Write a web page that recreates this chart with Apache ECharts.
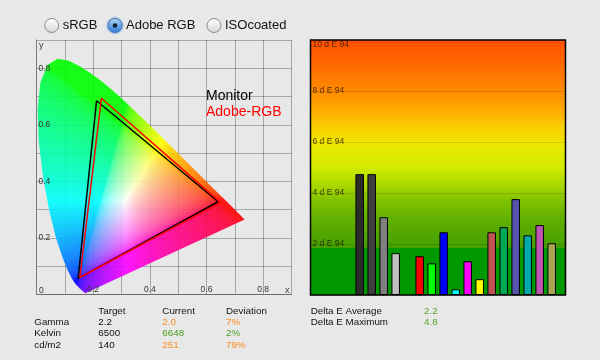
<!DOCTYPE html>
<html><head><meta charset="utf-8">
<script src="https://cdn.jsdelivr.net/npm/echarts@6/dist/echarts.min.js"></script>
<style>html,body{margin:0;padding:0;background:#e8e8e8;}#c{width:600px;height:360px;}</style>
</head><body><div id="c"></div>
<script>
// CIE 1931 spectral locus (380..700 nm)
const spectralLocus = [
[0.1741,0.0050],[0.1740,0.0050],[0.1738,0.0049],[0.1736,0.0049],[0.1733,0.0048],[0.1730,0.0048],
[0.1726,0.0048],[0.1721,0.0048],[0.1714,0.0051],[0.1703,0.0058],[0.1689,0.0069],[0.1669,0.0086],
[0.1644,0.0109],[0.1611,0.0138],[0.1566,0.0177],[0.1510,0.0227],[0.1440,0.0297],[0.1355,0.0399],
[0.1241,0.0578],[0.1096,0.0868],[0.0913,0.1327],[0.0687,0.2007],[0.0454,0.2950],[0.0235,0.4127],
[0.0082,0.5384],[0.0039,0.6548],[0.0139,0.7502],[0.0389,0.8120],[0.0743,0.8338],[0.1142,0.8262],
[0.1547,0.8059],[0.1929,0.7816],[0.2296,0.7543],[0.2658,0.7243],[0.3016,0.6923],[0.3373,0.6589],
[0.3731,0.6245],[0.4087,0.5896],[0.4441,0.5547],[0.4788,0.5202],[0.5125,0.4866],[0.5448,0.4544],
[0.5752,0.4242],[0.6029,0.3965],[0.6270,0.3725],[0.6482,0.3514],[0.6658,0.3340],[0.6801,0.3197],
[0.6915,0.3083],[0.7006,0.2993],[0.7079,0.2920],[0.7140,0.2859],[0.7190,0.2809],[0.7230,0.2770],
[0.7260,0.2740],[0.7283,0.2717],[0.7300,0.2700],[0.7311,0.2689],[0.7320,0.2680],[0.7327,0.2673],
[0.7334,0.2666],[0.7344,0.2656],[0.7347,0.2653]
];
const monitorTriangle = [[0.641,0.328],[0.212,0.685],[0.147,0.057]];
const adobeTriangle = [[0.649,0.326],[0.229,0.694],[0.153,0.060]];
const cieTickLabels = ['0.2','0.4','0.6','0.8'];

const patchNames = ['Gray 20','Gray 25','Gray 50','Gray 75','','Red','Green','Blue','Cyan','Magenta','Yellow','Skin','Sea green','Slate','Teal','Orchid','Olive'];
const patchDeltaE = [4.74,4.74,3.05,1.64,null,1.52,1.24,2.46,0.22,1.32,0.62,2.46,2.66,3.76,2.34,2.74,2.03];
const patchColors = ['#2b2b2b','#404040','#808080','#c0c0c0',null,'#ff0000','#00ff00','#0000ff','#00ffff','#ff00ff','#ffff00','#c05353','#00aa55','#5555ad','#00aaaa','#c055b2','#aaa552'];
const deltaTickSuffix = ' d E 94';

const tableHeader = ['Target','Current','Deviation'];
const tableRows = ['Gamma','Kelvin','cd/m2'];
const targetVals = ['2.2','6500','140'];
const currentVals = ['2.0','6648','251'];
const deviationVals = ['7%','2%','79%'];
const rowStatus = ['warn','ok','warn'];
const deltaLabels = ['Delta E Average','Delta E Maximum'];
const deltaVals = ['2.2','4.8'];
const gamutOptions = ['sRGB','Adobe RGB','ISOcoated'];
const selectedGamut = 1;

const FONT = "'Liberation Sans', Arial, sans-serif";
const ORANGE = '#ff8a1e', GREEN = '#4e9e22';

function xyToRgb(x, y) {
  if (y < 0.0008) y = 0.0008;
  const X = x / y, Z = (1 - x - y) / y;
  let r = 3.2406 * X - 1.5372 - 0.4986 * Z;
  let g = -0.9689 * X + 1.8758 + 0.0415 * Z;
  let b = 0.0557 * X - 0.2040 + 1.0570 * Z;
  r = Math.max(0, r); g = Math.max(0, g); b = Math.max(0, b);
  const m = Math.max(r, g, b) || 1;
  return [r / m, g / m, b / m].map(c => Math.round(255 * (c <= 0.0031308 ? 12.92 * c : 1.055 * Math.pow(c, 1 / 2.4) - 0.055)));
}
let fieldCanvas = null, fieldKey = '';
function getField(api) {
  const p0 = api.coord([0, 0]), p1 = api.coord([0.9, 0.9]);
  const key = p0.join(',') + p1.join(',');
  if (fieldCanvas && key === fieldKey) return fieldCanvas;
  const W = 600, H = 360;
  const cv = document.createElement('canvas'); cv.width = W; cv.height = H;
  const ctx = cv.getContext('2d');
  const img = ctx.createImageData(W, H);
  const sx = (p1[0] - p0[0]) / 0.9, sy = (p1[1] - p0[1]) / 0.9;
  for (let py = 0; py < H; py++) {
    for (let px = 0; px < W; px++) {
      const x = (px + 0.5 - p0[0]) / sx, y = (py + 0.5 - p0[1]) / sy;
      if (x < -0.02 || x > 0.8 || y < -0.02 || y > 0.88) continue;
      const c = xyToRgb(Math.max(0, x), Math.max(0, y));
      const i = (py * W + px) * 4;
      img.data[i] = c[0]; img.data[i + 1] = c[1]; img.data[i + 2] = c[2]; img.data[i + 3] = 255;
    }
  }
  ctx.putImageData(img, 0, 0);
  fieldCanvas = cv; fieldKey = key;
  return cv;
}

const chart = echarts.init(document.getElementById('c'), null, {renderer: 'canvas'});

const graphics = [];
// radio buttons
const radioX = [51.7, 115, 214];
gamutOptions.forEach((name, i) => {
  const cx = radioX[i], cy = 25.5;
  if (i === selectedGamut) {
    graphics.push({type: 'circle', shape: {cx, cy, r: 9}, style: {fill: 'rgba(90,150,225,0.35)'}});
    graphics.push({type: 'circle', shape: {cx, cy, r: 7}, style: {
      fill: new echarts.graphic.LinearGradient(0, 0, 0, 1, [{offset: 0, color: '#b9dbf8'}, {offset: 0.5, color: '#6aa8e8'}, {offset: 1, color: '#2f7fd6'}]),
      stroke: '#3d6eae', lineWidth: 1}});
    graphics.push({type: 'circle', shape: {cx, cy, r: 2.3}, style: {fill: '#16202e'}});
  } else {
    graphics.push({type: 'circle', shape: {cx, cy, r: 7}, style: {
      fill: new echarts.graphic.LinearGradient(0, 0, 0, 1, [{offset: 0, color: '#ffffff'}, {offset: 1, color: '#d6d6d6'}]),
      stroke: '#8a8a8a', lineWidth: 1}});
  }
  graphics.push({type: 'text', x: cx + 11, y: cy, style: {text: name, font: '13px ' + FONT, fill: '#111', verticalAlign: 'middle', align: 'left'}});
});
// axis annotations
graphics.push({type: 'text', x: 39, y: 46, z: 20, style: {text: 'y', font: '9px ' + FONT, fill: '#444', verticalAlign: 'middle'}});
graphics.push({type: 'text', x: 285, y: 291, z: 20, style: {text: 'x', font: '9px ' + FONT, fill: '#444', verticalAlign: 'middle'}});
graphics.push({type: 'text', x: 39, y: 290.5, z: 20, style: {text: '0', font: '8.5px ' + FONT, fill: '#333', verticalAlign: 'middle'}});
// legend texts
graphics.push({type: 'text', x: 206, y: 96.5, z: 20, style: {text: 'Monitor', font: '14px ' + FONT, fill: '#000', verticalAlign: 'middle'}});
graphics.push({type: 'text', x: 206, y: 112.5, z: 20, style: {text: 'Adobe-RGB', font: '14px ' + FONT, fill: '#ff0000', verticalAlign: 'middle'}});
// table
const colX = [34.3, 98.3, 162.3, 226];
const rowY = [311.3, 322.5, 333.7, 344.9];
const tf = '9.8px ' + FONT;
tableHeader.forEach((h, j) => graphics.push({type: 'text', x: colX[j + 1], y: rowY[0], style: {text: h, font: tf, fill: '#111', verticalAlign: 'middle'}}));
tableRows.forEach((r, i) => {
  const col = rowStatus[i] === 'ok' ? GREEN : ORANGE;
  graphics.push({type: 'text', x: colX[0], y: rowY[i + 1], style: {text: r, font: tf, fill: '#111', verticalAlign: 'middle'}});
  graphics.push({type: 'text', x: colX[1], y: rowY[i + 1], style: {text: targetVals[i], font: tf, fill: '#111', verticalAlign: 'middle'}});
  graphics.push({type: 'text', x: colX[2], y: rowY[i + 1], style: {text: currentVals[i], font: tf, fill: col, verticalAlign: 'middle'}});
  graphics.push({type: 'text', x: colX[3], y: rowY[i + 1], style: {text: deviationVals[i], font: tf, fill: col, verticalAlign: 'middle'}});
});
deltaLabels.forEach((l, i) => {
  graphics.push({type: 'text', x: 310.7, y: rowY[0] + i * 10.8, style: {text: l, font: tf, fill: '#111', verticalAlign: 'middle'}});
  graphics.push({type: 'text', x: 424, y: rowY[0] + i * 10.8, style: {text: deltaVals[i], font: tf, fill: '#5aa028', verticalAlign: 'middle'}});
});

const bgGradient = new echarts.graphic.LinearGradient(0, 0, 0, 1, [
  {offset: 0, color: '#ff4e00'}, {offset: 0.1, color: '#ff6a00'}, {offset: 0.2, color: '#ff8a00'},
  {offset: 0.28, color: '#ffae00'}, {offset: 0.35, color: '#f8d200'}, {offset: 0.41, color: '#eee800'},
  {offset: 0.5, color: '#d2ea00'}, {offset: 0.57, color: '#a8d800'}, {offset: 0.63, color: '#80c200'},
  {offset: 0.7, color: '#62b000'}, {offset: 0.8, color: '#48a200'}, {offset: 0.812, color: '#44a000'},
  {offset: 0.815, color: '#009a00'}, {offset: 1, color: '#009900'}
]);

const evenTick = v => { const k = Math.round(v * 10); return (k === 2 || k === 4 || k === 6 || k === 8) ? cieTickLabels[k / 2 - 1] : ''; };
const cieGridAxis = {gridIndex: 0, type: 'value', min: 0, max: 0.9, interval: 0.1, axisTick: {show: false}};

chart.setOption({
  animation: false,
  backgroundColor: '#e8e8e8',
  graphic: graphics,
  grid: [
    {left: 36.5, top: 40, width: 255, height: 254.5},
    {left: 310.5, top: 40, width: 255, height: 255, show: true, backgroundColor: bgGradient, borderColor: '#000', borderWidth: 1.5},
    {left: 353.7, top: 40, width: 204, height: 255}
  ],
  xAxis: [
    Object.assign({}, cieGridAxis, {position: 'bottom',
     axisLine: {show: true, onZero: false, lineStyle: {color: '#6e6e6e', width: 1}}, axisLabel: {show: false},
     splitLine: {show: true, lineStyle: {color: 'rgba(0,0,0,0.28)', width: 1}}}),
    {gridIndex: 1, type: 'value', min: 0, max: 1, show: false},
    {gridIndex: 2, type: 'category', data: patchNames, show: false},
    Object.assign({}, cieGridAxis, {position: 'bottom', z: 10, axisLine: {show: false}, splitLine: {show: false},
     axisLabel: {inside: true, margin: 0, fontSize: 8.5, color: '#333', fontFamily: FONT, formatter: evenTick, showMinLabel: false}})
  ],
  yAxis: [
    Object.assign({}, cieGridAxis, {position: 'left',
     axisLine: {show: true, onZero: false, lineStyle: {color: '#7a7a7a', width: 1}}, axisLabel: {show: false},
     splitLine: {show: true, lineStyle: {color: 'rgba(0,0,0,0.28)', width: 1}}}),
    {gridIndex: 1, type: 'value', min: 0, max: 10, interval: 2,
     axisLine: {show: false}, axisTick: {show: false},
     axisLabel: {inside: true, margin: 2, fontSize: 8.5, fontFamily: FONT, color: 'rgba(40,20,0,0.8)', showMinLabel: false,
       formatter: v => v === 10 ? '{t|' + v + deltaTickSuffix + '}' : v + deltaTickSuffix,
       rich: {t: {padding: [10, 0, 0, 0], fontSize: 8.5, fontFamily: FONT, color: 'rgba(40,20,0,0.8)'}}},
     splitLine: {show: true, lineStyle: {color: 'rgba(0,0,0,0.12)', width: 1}}},
    {gridIndex: 2, type: 'value', min: 0, max: 10, show: false},
    Object.assign({}, cieGridAxis, {position: 'left', z: 10, axisLine: {show: false}, splitLine: {show: false},
     axisLabel: {inside: true, margin: 2, fontSize: 8.5, color: '#333', fontFamily: FONT, formatter: evenTick, showMinLabel: false}})
  ],
  series: [
    {type: 'custom', xAxisIndex: 0, yAxisIndex: 0, z: 1, silent: true, data: [[0.3, 0.3]],
     renderItem: (params, api) => ({
       type: 'polygon',
       shape: {points: spectralLocus.map(p => api.coord(p))},
       style: {fill: {image: getField(api), repeat: 'no-repeat'}, stroke: null, opacity: 0.9}
     })},
    {type: 'line', xAxisIndex: 0, yAxisIndex: 0, z: 5, symbol: 'none', silent: true,
     data: monitorTriangle.concat([monitorTriangle[0]]), lineStyle: {color: '#000', width: 1.5}},
    {type: 'line', xAxisIndex: 0, yAxisIndex: 0, z: 6, symbol: 'none', silent: true,
     data: adobeTriangle.concat([adobeTriangle[0]]), lineStyle: {color: '#ff0000', width: 1.5}},
    {type: 'bar', xAxisIndex: 2, yAxisIndex: 2, barWidth: 8.5, silent: true,
     data: patchDeltaE.map((v, i) => v == null ? '-' : {value: v, itemStyle: {color: patchColors[i], borderColor: '#000', borderWidth: 1}})}
  ]
});
</script>
</body></html>
